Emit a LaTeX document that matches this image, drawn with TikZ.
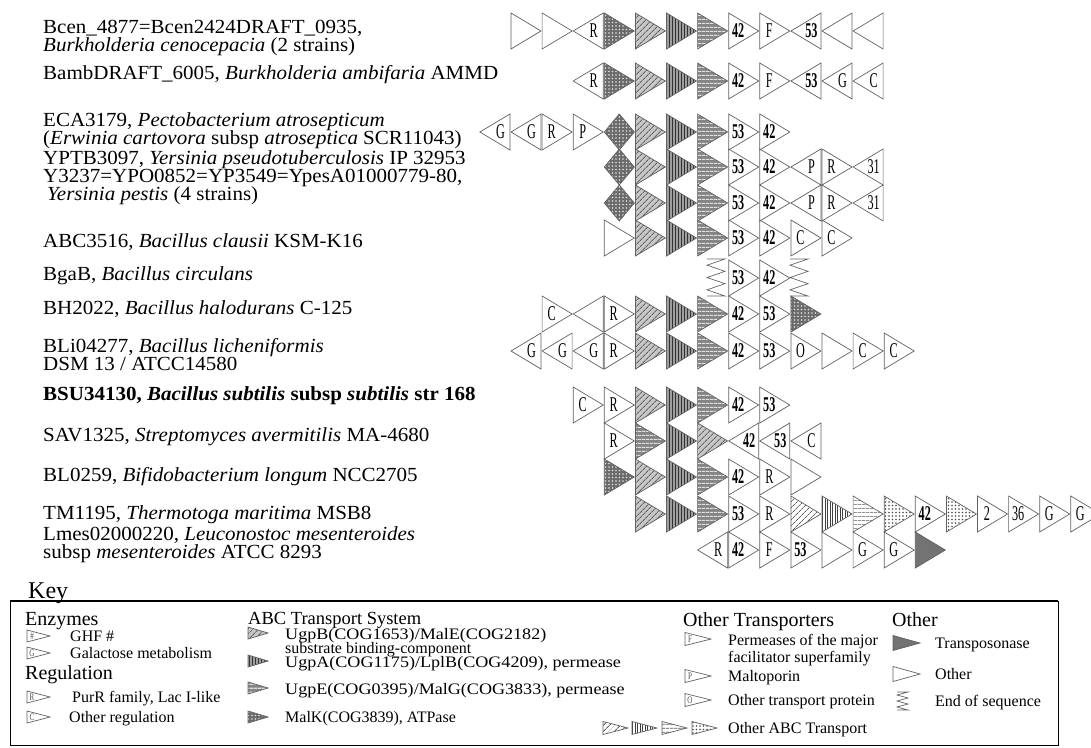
\documentclass[tikz,border=0pt]{standalone}
\usepackage{fontspec}
\setmainfont{Liberation Serif}
\usepackage{graphicx}
\usetikzlibrary{patterns.meta}
\newcounter{gn}
\tikzset{
  gene/.style={draw=black!62, line width=0.7pt, line join=miter},
  pdiag/.style={preaction={fill=black!22}, pattern={Lines[angle=45,distance=4pt,line width=0.9pt]}, pattern color=black!62},
  pvert/.style={preaction={fill=black!38}, pattern={Lines[angle=90,distance=3pt,line width=1pt]}, pattern color=black!80},
  phoriz/.style={preaction={fill=black!48}, pattern={Lines[angle=0,distance=4pt,line width=1.3pt]}, pattern color=black!12},
  pcheck/.style={preaction={fill=black!58}, pattern={Dots[distance=3.5pt,radius=0.9pt]}, pattern color=black!12},
  odiag/.style={pattern={Lines[angle=45,distance=4pt,line width=0.8pt]}, pattern color=black!65},
  overt/.style={pattern={Lines[angle=90,distance=2.5pt,line width=0.8pt]}, pattern color=black!75},
  ohoriz/.style={pattern={Lines[angle=0,distance=4pt,line width=0.8pt]}, pattern color=black!65},
  ocheck/.style={pattern={Dots[distance=3.5pt,radius=0.9pt]}, pattern color=black!70},
  trans/.style={fill=black!55},
  zig/.style={draw=black!60, line width=0.7pt},
  glabel/.style={inner sep=0pt, font=\fontsize{21}{21}\selectfont},
  klabel/.style={inner sep=0pt, font=\fontsize{10}{10}\selectfont, text=black!70},
  lbl/.style={anchor=base west, inner sep=0pt, font=\fontsize{20}{20}\selectfont},
  khead/.style={anchor=base west, inner sep=0pt, font=\fontsize{20}{20}\selectfont},
  kitem/.style={anchor=base west, inner sep=0pt, font=\fontsize{16}{16}\selectfont},
}
\newcommand\wide[1]{\scalebox{1.05}[1]{#1}}
\newcommand\cogw[1]{\scalebox{1.13}[1]{#1}}
% right-pointing gene: col, y-centre, style, label
\newcommand\gR[4]{%
  \pgfmathsetmacro\xl{511+31.1*(#1)}%
  \path[gene,#3] (\xl,#2-18) -- (\xl+30,#2) -- (\xl,#2+18) -- cycle;
  \stepcounter{gn}\node[glabel] (g\thegn) at (\xl+9.5,#2) {\scalebox{0.58}[1]{#4}};}
% left-pointing gene
\newcommand\gL[4]{%
  \pgfmathsetmacro\xl{511+31.1*(#1)}%
  \path[gene,#3] (\xl+30,#2-18) -- (\xl,#2) -- (\xl+30,#2+18) -- cycle;
  \stepcounter{gn}\node[glabel] (g\thegn) at (\xl+20.5,#2) {\scalebox{0.58}[1]{#4}};}
% diamond gene
\newcommand\gD[3]{%
  \pgfmathsetmacro\xl{511+31.1*(#1)}%
  \path[gene,#3] (\xl,#2) -- (\xl+15,#2-18) -- (\xl+30,#2) -- (\xl+15,#2+18) -- cycle;}
% zigzag (end of sequence): x, ytop, w, h
\newcommand\zz[4]{%
  \draw[zig] (#1,#2) -- (#1+#3,#2) -- (#1,#2+#4/6) -- (#1+#3,#2+#4/3) -- (#1,#2+#4/2)
     -- (#1+#3,#2+2*#4/3) -- (#1,#2+5*#4/6) -- (#1+#3,#2+#4) -- (#1,#2+#4);}
% key icon: x, yc, w, h, style, label
\newcommand\kR[6]{%
  \path[gene,#5] (#1,#2-#4/2) -- (#1+#3,#2) -- (#1,#2+#4/2) -- cycle;
  \stepcounter{gn}\node[klabel] (g\thegn) at (#1+5,#2) {\scalebox{0.7}[1]{#6}};}
\begin{document}
\begin{tikzpicture}[x=1pt,y=-1pt]
\useasboundingbox (0,0) rectangle (1091,747);
\fill[white] (0,0) rectangle (1091,747);
\clip (0,0) rectangle (1091,747);

% ---------- organism labels ----------
\node[lbl] (bcen1) at (43,33) {\wide{Bcen\_4877=Bcen2424DRAFT\_0935,}};
\node[lbl] (bcen2) at (43,51) {\wide{\textit{Burkholderia cenocepacia} (2 strains)}};
\node[lbl] (bamb) at (43,79) {\wide{BambDRAFT\_6005, \textit{Burkholderia ambifaria} AMMD}};
\node[lbl] (eca1) at (43,126) {\wide{ECA3179, \textit{Pectobacterium atrosepticum}}};
\node[lbl] (eca2) at (43,144) {\wide{(\textit{Erwinia cartovora} subsp \textit{atroseptica} SCR11043)}};
\node[lbl] (yptb) at (43,164) {\wide{YPTB3097, \textit{Yersinia pseudotuberculosis} IP 32953}};
\node[lbl] (ype1) at (43,182) {\wide{Y3237=YPO0852=YP3549=YpesA01000779-80,}};
\node[lbl] (ype2) at (47,200) {\wide{\textit{Yersinia pestis} (4 strains)}};
\node[lbl] (abc) at (43,247) {\wide{ABC3516, \textit{Bacillus clausii} KSM-K16}};
\node[lbl] (bgab) at (43,280) {\wide{BgaB, \textit{Bacillus circulans}}};
\node[lbl] (bh) at (43,314) {\wide{BH2022, \textit{Bacillus halodurans} C-125}};
\node[lbl] (bli1) at (43,352) {\wide{BLi04277, \textit{Bacillus licheniformis}}};
\node[lbl] (bli2) at (43,370) {\wide{DSM 13 / ATCC14580}};
\node[lbl] (bsu) at (43,400) {\wide{\bfseries BSU34130, \textit{Bacillus subtilis} subsp \textit{subtilis} str 168}};
\node[lbl] (sav) at (43,441) {\wide{SAV1325, \textit{Streptomyces avermitilis} MA-4680}};
\node[lbl] (bl) at (43,481) {\wide{BL0259, \textit{Bifidobacterium longum} NCC2705}};
\node[lbl] (tm) at (43,519) {\wide{TM1195, \textit{Thermotoga maritima} MSB8}};
\node[lbl] (lm1) at (43,540) {\wide{Lmes02000220, \textit{Leuconostoc mesenteroides}}};
\node[lbl] (lm2) at (43,558) {\wide{subsp \textit{mesenteroides} ATCC 8293}};

% ---------- gene rows ----------
% row 1
\gR{0}{31}{}{} \gR{1}{31}{}{} \gL{2}{31}{}{R} \gR{3}{31}{pcheck}{} \gR{4}{31}{pdiag}{}
\gR{5}{31}{pvert}{} \gR{6}{31}{phoriz}{} \gR{7}{31}{}{\bfseries 42} \gR{8}{31}{}{F}
\gL{9}{31}{}{\bfseries 53} \gL{10}{31}{}{} \gL{11}{31}{}{}
% row 2
\gL{2}{81}{}{R} \gR{3}{81}{pcheck}{} \gR{4}{81}{pdiag}{} \gR{5}{81}{pvert}{} \gR{6}{81}{phoriz}{}
\gR{7}{81}{}{\bfseries 42} \gR{8}{81}{}{F} \gL{9}{81}{}{\bfseries 53} \gL{10}{81}{}{G} \gL{11}{81}{}{C}
% row 3
\gL{-1}{132}{}{G} \gL{0}{132}{}{G} \gR{1}{132}{}{R} \gR{2}{132}{}{P} \gD{3}{132}{pcheck}
\gR{4}{132}{pdiag}{} \gR{5}{132}{pvert}{} \gR{6}{132}{phoriz}{} \gR{7}{132}{}{\bfseries 53} \gR{8}{132}{}{\bfseries 42}
% row 4
\gD{3}{167}{pcheck} \gR{4}{167}{pdiag}{} \gR{5}{167}{pvert}{} \gR{6}{167}{phoriz}{}
\gR{7}{167}{}{\bfseries 53} \gR{8}{167}{}{\bfseries 42} \gL{9}{167}{}{P} \gR{10}{167}{}{R} \gL{11}{167}{}{31}
% row 5
\gD{3}{203}{pcheck} \gR{4}{203}{pdiag}{} \gR{5}{203}{pvert}{} \gR{6}{203}{phoriz}{}
\gR{7}{203}{}{\bfseries 53} \gR{8}{203}{}{\bfseries 42} \gL{9}{203}{}{P} \gR{10}{203}{}{R} \gL{11}{203}{}{31}
% row 6
\gR{3}{238}{}{} \gR{4}{238}{pdiag}{} \gR{5}{238}{pvert}{} \gR{6}{238}{phoriz}{}
\gR{7}{238}{}{\bfseries 53} \gR{8}{238}{}{\bfseries 42} \gR{9}{238}{}{C} \gR{10}{238}{}{C}
% row 7
\zz{707}{259}{18}{37} \gR{7}{278}{}{\bfseries 53} \gR{8}{278}{}{\bfseries 42} \zz{790}{259}{18}{37}
% row 8
\gR{1}{314}{}{C} \gL{2}{314}{}{} \gR{3}{314}{}{R} \gR{4}{314}{pdiag}{} \gR{5}{314}{pvert}{} \gR{6}{314}{phoriz}{}
\gR{7}{314}{}{\bfseries 42} \gR{8}{314}{}{\bfseries 53} \gR{9}{314}{pcheck}{}
% row 9
\gL{0}{351}{}{G} \gL{1}{351}{}{G} \gL{2}{351}{}{G} \gR{3}{351}{}{R} \gR{4}{351}{pdiag}{} \gR{5}{351}{pvert}{} \gR{6}{351}{phoriz}{}
\gR{7}{351}{}{\bfseries 42} \gR{8}{351}{}{\bfseries 53} \gR{9}{351}{}{O} \gR{10}{351}{}{} \gR{11}{351}{}{C} \gR{12}{351}{}{C}
% row 10
\gR{2}{405}{}{C} \gR{3}{405}{}{R} \gR{4}{405}{pdiag}{} \gR{5}{405}{pvert}{} \gR{6}{405}{phoriz}{}
\gR{7}{405}{}{\bfseries 42} \gR{8}{405}{}{\bfseries 53}
% row 11
\gR{3}{441}{}{R} \gR{4}{441}{phoriz}{} \gR{5}{441}{pvert}{} \gR{6}{441}{pdiag}{}
\gL{7}{441}{}{\bfseries 42} \gL{8}{441}{}{\bfseries 53} \gL{9}{441}{}{C}
% row 12
\gR{3}{477}{pcheck}{} \gR{4}{477}{pdiag}{} \gR{5}{477}{pvert}{} \gR{6}{477}{phoriz}{}
\gR{7}{477}{}{\bfseries 42} \gR{8}{477}{}{R} \gR{9}{477}{}{}
% row 13
\gR{4}{514}{pdiag}{} \gR{5}{514}{pvert}{} \gR{6}{514}{phoriz}{}
\gR{7}{514}{}{\bfseries 53} \gR{8}{514}{}{R} \gR{9}{514}{odiag}{} \gR{10}{514}{overt}{} \gR{11}{514}{ohoriz}{}
\gR{12}{514}{ocheck}{} \gR{13}{514}{}{\bfseries 42} \gR{14}{514}{ocheck}{} \gR{15}{514}{}{2} \gR{16}{514}{}{36}
\gR{17}{514}{}{G} \gR{18}{514}{}{G}
% row 14
\gL{6}{550}{}{R} \gR{7}{550}{}{\bfseries 42} \gR{8}{550}{}{F} \gR{9}{550}{}{\bfseries 53} \gR{10}{550}{}{}
\gR{11}{550}{}{G} \gR{12}{550}{}{G} \gR{13}{550}{trans}{}

% ---------- key ----------
\node[anchor=base west, inner sep=0pt, font=\fontsize{24}{24}\selectfont] (keyt) at (28,598) {Key};
\draw[line width=0.9pt] (10,601) rectangle (1058,745);
\draw[line width=2pt] (10,601) -- (1058,601);

\node[khead] (kenz) at (25,625) {Enzymes};
\kR{27}{636}{23}{12}{}{\#} \node[kitem] (kghf) at (70,641.5) {GHF \#};
\kR{27}{653}{23}{12}{}{G} \node[kitem] (kgal) at (70,658) {Galactose metabolism};
\node[khead] (kreg) at (25,679) {Regulation};
\kR{27}{697}{23}{12}{}{R} \node[kitem] (kpur) at (72,702) {PurR family, Lac I-like};
\kR{27}{717}{23}{12}{}{C} \node[kitem] (koreg) at (69,722) {Other regulation};

\node[khead, font=\fontsize{18.5}{18.5}\selectfont] (kabc) at (248,624) {ABC Transport System};
\kR{248}{633}{20}{12}{pdiag}{} \node[kitem] (kugpb) at (285,639) {\cogw{UgpB(COG1653)/MalE(COG2182)}};
\node[kitem] (ksub) at (285,653) {substrate binding-component};
\kR{248}{661}{20}{12}{pvert}{} \node[kitem] (kugpa) at (285,667) {\cogw{UgpA(COG1175)/LplB(COG4209), permease}};
\kR{248}{688}{20}{12}{phoriz}{} \node[kitem] (kugpe) at (285,694) {\cogw{UgpE(COG0395)/MalG(COG3833), permease}};
\kR{248}{717}{20}{12}{pcheck}{} \node[kitem] (kmalk) at (285,722) {MalK(COG3839), ATPase};

\node[khead] (kot) at (683,626) {Other Transporters};
\kR{685}{639}{26}{13}{}{F} \node[kitem] (kperm) at (728,645) {Permeases of the major};
\node[kitem] (kfac) at (728,662) {facilitator superfamily};
\kR{685}{676}{26}{13}{}{P} \node[kitem] (kmalto) at (728,681) {Maltoporin};
\kR{685}{700}{26}{13}{}{O} \node[kitem] (kotp) at (728,705) {Other transport protein};
\kR{603}{728}{25}{13}{odiag}{} \kR{632}{728}{25}{13}{overt}{} \kR{662}{728}{25}{13}{ohoriz}{} \kR{692}{728}{25}{13}{ocheck}{}
\node[kitem] (koabc) at (728,733) {Other ABC Transport};

\node[khead] (koth) at (892,626) {Other};
\kR{893}{643}{27}{15}{trans}{} \node[kitem] (ktrans) at (935,648) {Transposonase};
\kR{893}{674}{27}{15}{}{} \node[kitem] (kother) at (935,679) {Other};
\zz{897}{692}{11}{18} \node[kitem] (keos) at (935,706) {End of sequence};
\end{tikzpicture}
\end{document}
